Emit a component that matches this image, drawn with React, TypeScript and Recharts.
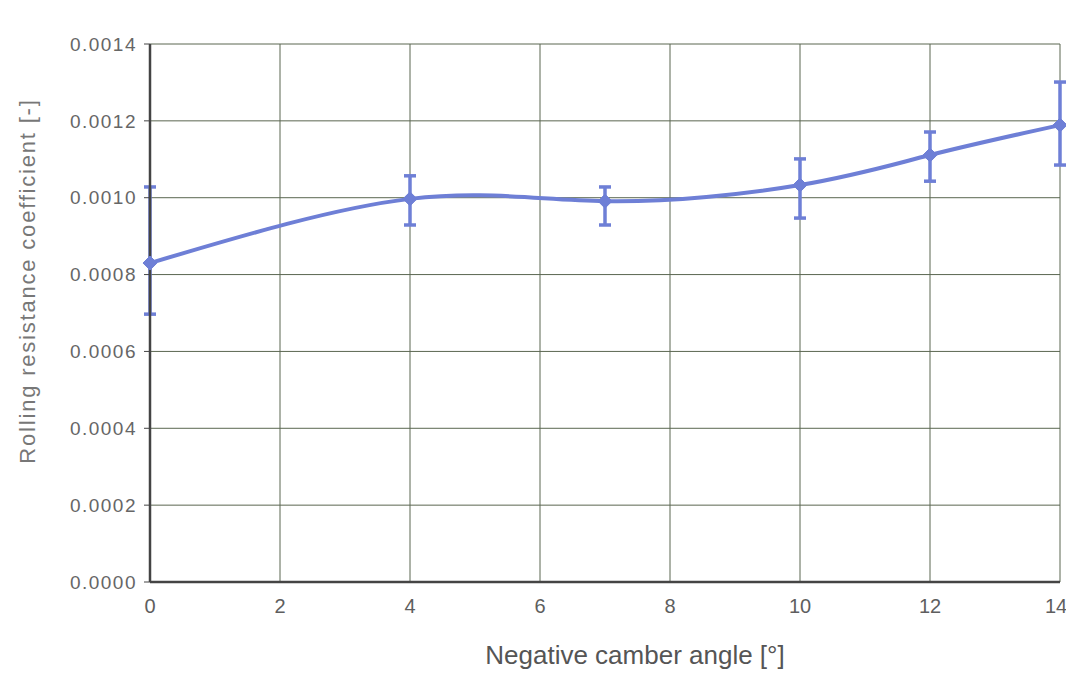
import { ComposedChart, Line, XAxis, YAxis, CartesianGrid, ErrorBar } from "recharts";

// negative camber angle [deg]
const camberAngle = [0, 4, 7, 10, 12, 14];
// measured rolling resistance coefficient
const rollingResistance = [0.00083, 0.000997, 0.000991, 0.001033, 0.001111, 0.001189];
// error bar bounds
const errorLow = [0.000697, 0.000929, 0.000929, 0.000947, 0.001043, 0.001085];
const errorHigh = [0.001028, 0.001057, 0.001028, 0.001101, 0.001171, 0.001301];

const xTicks = [0, 2, 4, 6, 8, 10, 12, 14];
const yTicks = [0, 0.0002, 0.0004, 0.0006, 0.0008, 0.001, 0.0012, 0.0014];

const data = camberAngle.map((x, i) => ({
  x,
  y: rollingResistance[i],
  err: [rollingResistance[i] - errorLow[i], errorHigh[i] - rollingResistance[i]],
}));

const blue = "#6e7fd6";
const font = "'Liberation Sans', Arial, sans-serif";

function Diamond(props: any) {
  const { cx, cy } = props;
  if (cx == null || cy == null) return null;
  const r = 7;
  return (
    <polygon
      points={`${cx},${cy - r} ${cx + r},${cy} ${cx},${cy + r} ${cx - r},${cy}`}
      fill={blue}
      stroke={blue}
    />
  );
}

function YTitle(props: any) {
  const vb = props.viewBox || {};
  const x = vb.x + 19;
  const y = vb.y + vb.height / 2 - 32;
  return (
    <text
      x={x}
      y={y}
      transform={`rotate(-90, ${x}, ${y})`}
      textAnchor="middle"
      dominantBaseline="central"
      fill="#777"
      fontSize={22}
      letterSpacing={1.8}
      fontFamily={font}
    >
      Rolling resistance coefficient [-]
    </text>
  );
}

function XTitle(props: any) {
  const vb = props.viewBox || {};
  const x = vb.x + vb.width / 2 + 30;
  const y = vb.y + 82;
  return (
    <text x={x} y={y} textAnchor="middle" fill="#555" fontSize={26} fontFamily={font}>
      Negative camber angle [°]
    </text>
  );
}

export default function App() {
  return (
    <div style={{ width: 1058, height: 679, background: "#fff", fontFamily: font }}>
      <style>{`html, body { overflow: hidden; } .recharts-surface, .recharts-wrapper { overflow: visible !important; }`}</style>
      <ComposedChart
        width={1058}
        height={679}
        data={data}
        margin={{ top: 36, right: 6, bottom: 15, left: 0 }}
      >
        <CartesianGrid stroke="#5a6650" strokeWidth={1} />
        <XAxis
          dataKey="x"
          type="number"
          domain={[0, 14]}
          ticks={xTicks}
          height={90}
          tickSize={0}
          tickMargin={17}
          axisLine={{ stroke: "#444", strokeWidth: 2.5 }}
          tick={{ fill: "#5e5e5e", fontSize: 20, fontFamily: font }}
          label={<XTitle />}
        />
        <YAxis
          type="number"
          domain={[0, 0.0014]}
          ticks={yTicks}
          width={142}
          tickSize={6}
          tickMargin={7}
          tickFormatter={(v: number) => v.toFixed(4)}
          axisLine={{ stroke: "#444", strokeWidth: 2.5 }}
          tickLine={{ stroke: "#444" }}
          tick={{ fill: "#666", fontSize: 19, letterSpacing: 1.5, fontFamily: font }}
          label={<YTitle />}
        />
        <Line
          type="natural"
          dataKey="y"
          stroke={blue}
          strokeWidth={4}
          dot={<Diamond />}
          activeDot={false}
          isAnimationActive={false}
        >
          <ErrorBar dataKey="err" width={6} stroke={blue} strokeWidth={3.5} isAnimationActive={false} />
        </Line>
      </ComposedChart>
    </div>
  );
}
